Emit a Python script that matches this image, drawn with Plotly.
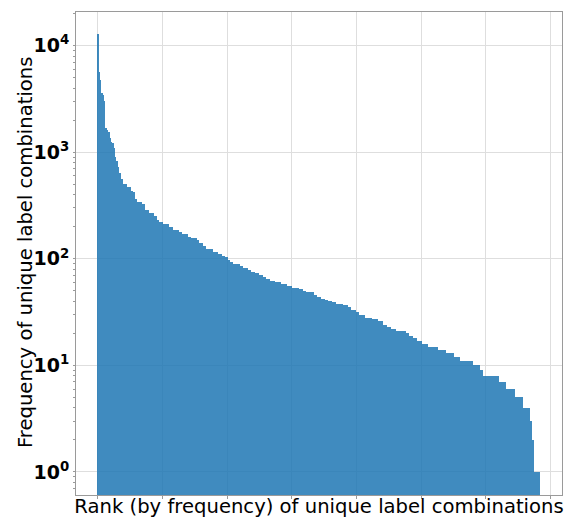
import plotly.graph_objects as go

# Frequency values (plateaus) and number of label combinations at each
freq_values = [12900, 5660, 4790, 3600, 3470, 3000, 1690, 1620, 1535, 1370, 1260, 1210, 1090, 910, 820,
               726, 638, 564, 503, 477, 471, 435, 423, 366, 345, 338, 326, 288, 269, 255,
               232, 224, 212, 199, 185, 179, 171, 162, 157, 151, 142, 131, 123, 117, 111,
               107, 103, 98, 93, 89, 86, 82, 79, 76, 73, 70, 67, 64, 62, 60,
               58, 56, 53, 52, 50, 49, 46, 44, 42, 41, 40, 39, 38, 37, 35,
               33, 32, 30, 28, 27, 26, 24, 23, 22, 21, 20, 19, 18, 17, 16,
               15, 14, 13, 12, 11, 10, 9, 8, 7, 6, 5, 4, 3, 2, 1]
run_lengths = [2, 2, 2, 3, 1, 2, 3, 2, 2, 2, 2, 2, 2, 2, 2,
               3, 2, 4, 5, 2, 5, 3, 3, 3, 4, 4, 5, 6, 7, 5,
               3, 7, 8, 6, 10, 5, 9, 5, 9, 3, 6, 5, 11, 7, 6,
               5, 5, 3, 5, 10, 5, 8, 4, 6, 7, 6, 5, 6, 7, 10,
               9, 8, 10, 6, 6, 11, 5, 7, 6, 5, 5, 7, 10, 8, 5,
               8, 4, 9, 12, 9, 7, 6, 6, 8, 16, 4, 6, 7, 7, 10,
               16, 11, 13, 10, 20, 11, 4, 24, 12, 13, 13, 10, 4, 3, 9]

y_tick_vals = [1, 10, 100, 1000, 10000]
y_tick_text = ["<b>10<sup>0</sup></b>", "<b>10<sup>1</sup></b>", "<b>10<sup>2</sup></b>",
               "<b>10<sup>3</sup></b>", "<b>10<sup>4</sup></b>"]

freqs = []
for v, n in zip(freq_values, run_lengths):
    freqs.extend([v] * n)
ranks = list(range(len(freqs)))

fig = go.Figure(go.Bar(x=ranks, y=freqs,
                       marker=dict(color="rgba(31,119,180,0.85)", line=dict(width=0))))

font = "DejaVu Sans"
fig.update_layout(
    width=569, height=518,
    margin=dict(l=76, r=7, t=12, b=23),
    paper_bgcolor="white", plot_bgcolor="white",
    bargap=0.0, showlegend=False,
    font=dict(family=font, color="black"),
    annotations=[dict(
        text="Frequency of unique label combinations",
        xref="paper", yref="paper", x=-0.105, y=0.503,
        xanchor="center", yanchor="middle", textangle=-90, showarrow=False,
        font=dict(size=19.6, family=font, color="black"),
    )],
)
fig.update_xaxes(
    range=[-33.7, 717.5], dtick=100, tick0=0, showticklabels=False,
    showgrid=True, gridcolor="#dedede", gridwidth=1,
    showline=True, mirror=True, linecolor="#9a9a9a", linewidth=1,
    ticks="outside", ticklen=3, tickcolor="#9a9a9a", zeroline=False,
    title=dict(text="Rank (by frequency) of unique label combinations",
               font=dict(size=19.6, family=font, color="black"), standoff=1),
    automargin=False,
)
fig.update_yaxes(
    type="log", range=[-0.216, 4.316],
    tickvals=y_tick_vals, ticktext=y_tick_text,
    tickfont=dict(size=19, family=font, color="black"),
    showgrid=True, gridcolor="#dedede", gridwidth=1,
    showline=True, mirror=True, linecolor="#9a9a9a", linewidth=1,
    ticks="outside", ticklen=2, tickcolor="#9a9a9a", zeroline=False,
    minor=dict(ticks="outside", ticklen=2, tickcolor="#9a9a9a", showgrid=False, dtick="D1"),
    automargin=False,
)

fig.write_html("out.html", config={"displayModeBar": False},
               post_script="document.body.style.margin='0';")
